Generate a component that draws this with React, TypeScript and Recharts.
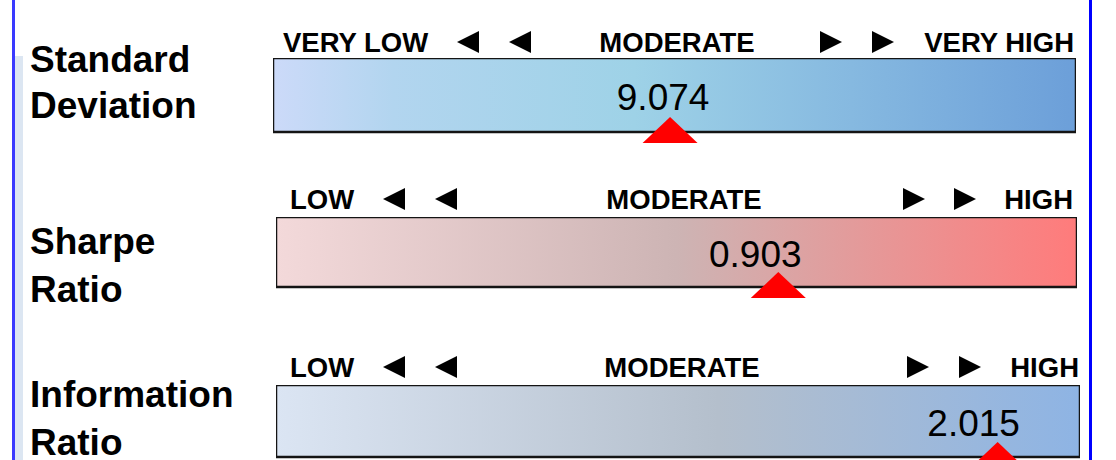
import React from 'react';
import { ComposedChart, Bar, XAxis, YAxis, ReferenceDot } from 'recharts';

const METRICS = ['Standard Deviation', 'Sharpe Ratio', 'Information Ratio'];
const VALUES = [9.074, 0.903, 2.015];
const SCALE_MIN = [0, 0, 0];
const SCALE_MAX = [18.35, 1.44, 2.245];
const LOW_LABELS = ['VERY LOW', 'LOW', 'LOW'];
const MID_LABELS = ['MODERATE', 'MODERATE', 'MODERATE'];
const HIGH_LABELS = ['VERY HIGH', 'HIGH', 'HIGH'];

const W = 1116;
const H = 460;
const FONT = '"Liberation Sans", Arial, Helvetica, sans-serif';

// layout of each gauge row (pixels)
const ROWS = [
    {
        left: 273, right: 1076, top: 58, height: 74, labelDx: -7,
        titleY: [72, 118], headY: 52,
        low: 283, arrowsL: [457, 509], mid: 677, arrowsR: [820, 872], high: 1074,
    },
    {
        left: 276, right: 1077, top: 217, height: 70, labelDx: -23,
        titleY: [254, 302], headY: 209,
        low: 290, arrowsL: [383, 435], mid: 684, arrowsR: [903, 954], high: 1073,
    },
    {
        left: 276, right: 1080, top: 385, height: 72, labelDx: -24,
        titleY: [407, 455], headY: 377,
        low: 290, arrowsL: [383, 435], mid: 682, arrowsR: [907, 959], high: 1079,
    },
];

const GRADIENTS = [
    [
        ['0%', '#ccdaf9'],
        ['15%', '#b2d5ef'],
        ['45%', '#9ed2e7'],
        ['72%', '#86b9e0'],
        ['100%', '#6c9fd9'],
    ],
    [
        ['0%', '#f3d9da'],
        ['50%', '#cdb4b4'],
        ['100%', '#ff7b7b'],
    ],
    [
        ['0%', '#dbe5f3'],
        ['55%', '#b4bfcc'],
        ['100%', '#8eb4e4'],
    ],
];

function Gauge({ i }: { i: number }) {
    const row = ROWS[i];
    const data = [{ name: METRICS[i], track: SCALE_MAX[i], value: VALUES[i] }];
    const barW = row.right - row.left;
    const extra = 40;

    const Marker = (props: any) => {
        const { cx, cy } = props;
        const half = row.height / 2;
        const apex = cy + half - 15;
        const base = cy + half + 11;
        return (
            <g>
                <text
                    x={cx + row.labelDx}
                    y={cy + 15}
                    textAnchor="middle"
                    fontFamily={FONT}
                    fontSize={37}
                    fill="#000"
                >
                    {VALUES[i].toFixed(3)}
                </text>
                <polygon
                    points={`${cx},${apex} ${cx - 27.5},${base} ${cx + 27.5},${base}`}
                    fill="#ff0000"
                />
            </g>
        );
    };

    return (
        <div style={{ position: 'absolute', left: 0, top: row.top }}>
            <ComposedChart
                width={W}
                height={row.height + extra}
                data={data}
                layout="vertical"
                margin={{ top: 0, right: W - row.left - barW, bottom: extra, left: row.left }}
                barCategoryGap={0}
                barGap={0}
            >
                <defs>
                    <linearGradient id={`gauge-${i}`} x1="0" y1="0" x2="1" y2="0">
                        {GRADIENTS[i].map(([off, c]) => (
                            <stop key={off} offset={off} stopColor={c} />
                        ))}
                    </linearGradient>
                </defs>
                <XAxis type="number" domain={[SCALE_MIN[i], SCALE_MAX[i]]} hide allowDataOverflow />
                <YAxis type="category" dataKey="name" hide />
                <Bar
                    dataKey="track"
                    fill={`url(#gauge-${i})`}
                    stroke="#141414"
                    strokeWidth={2.5}
                    isAnimationActive={false}
                />
                <ReferenceDot
                    x={VALUES[i]}
                    y={METRICS[i]}
                    shape={Marker}
                    ifOverflow="visible"
                />
            </ComposedChart>
        </div>
    );
}

const LeftArrow = ({ x, y }: { x: number; y: number }) => (
    <polygon points={`${x},${y - 10} ${x + 22},${y - 21} ${x + 22},${y + 1}`} fill="#000" />
);
const RightArrow = ({ x, y }: { x: number; y: number }) => (
    <polygon points={`${x},${y - 21} ${x + 22},${y - 10} ${x},${y + 1}`} fill="#000" />
);

export default function App() {
    return (
        <div
            style={{
                position: 'absolute',
                left: 0,
                top: 0,
                width: W,
                height: H,
                overflow: 'hidden',
                background: '#ffffff',
            }}
        >
            <div style={{ position: 'absolute', left: 12, top: 0, width: 3, height: H, background: '#3a3aff' }} />
            <div style={{ position: 'absolute', left: 15, top: 56, width: 8, height: H - 56, background: '#dce6f2' }} />
            <div style={{ position: 'absolute', left: 1089, top: 0, width: 3, height: H, background: '#0000ff' }} />

            {ROWS.map((_, i) => (
                <Gauge key={i} i={i} />
            ))}

            <svg
                width={W}
                height={H}
                style={{ position: 'absolute', left: 0, top: 0, pointerEvents: 'none' }}
            >
                {ROWS.map((row, i) => {
                    const words = METRICS[i].split(' ');
                    return (
                        <g key={i} fontFamily={FONT} fontWeight="bold" fill="#000">
                            {words.map((w, k) => (
                                <text key={k} x={30} y={row.titleY[k]} fontSize={37}>
                                    {w}
                                </text>
                            ))}
                            <text x={row.low} y={row.headY} fontSize={27.5}>
                                {LOW_LABELS[i]}
                            </text>
                            <text x={row.mid} y={row.headY} fontSize={27.5} textAnchor="middle">
                                {MID_LABELS[i]}
                            </text>
                            <text x={row.high} y={row.headY} fontSize={27.5} textAnchor="end">
                                {HIGH_LABELS[i]}
                            </text>
                            {row.arrowsL.map((x) => (
                                <LeftArrow key={`l${x}`} x={x} y={row.headY} />
                            ))}
                            {row.arrowsR.map((x) => (
                                <RightArrow key={`r${x}`} x={x} y={row.headY} />
                            ))}
                        </g>
                    );
                })}
            </svg>
        </div>
    );
}
